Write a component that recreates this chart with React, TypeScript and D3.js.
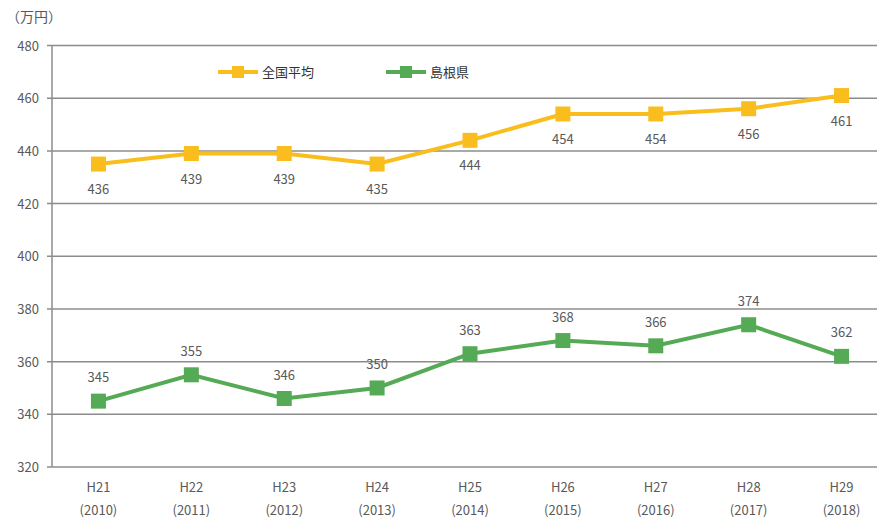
import React from "react";
import * as d3 from "d3";

const categories = ["H21", "H22", "H23", "H24", "H25", "H26", "H27", "H28", "H29"];
const years = ["(2010)", "(2011)", "(2012)", "(2013)", "(2014)", "(2015)", "(2016)", "(2017)", "(2018)"];
const national = [435, 439, 439, 435, 444, 454, 454, 456, 461];
const nationalLabels = ["436", "439", "439", "435", "444", "454", "454", "456", "461"];
const shimane = [345, 355, 346, 350, 363, 368, 366, 374, 362];
const yTicks = [320, 340, 360, 380, 400, 420, 440, 460, 480];
const seriesNames = ["全国平均", "島根県"];

const W = 877;
const H = 524;
const FONT = "'Noto Sans CJK JP', 'Noto Sans', sans-serif";
const TEXT = "#595959";
const YELLOW = "#F9BE1E";
const GREEN = "#55AA55";

export default function App() {
  const x = d3.scalePoint<string>().domain(categories).range([52, 888]).padding(0.5);
  const y = d3.scaleLinear().domain([320, 480]).range([467, 45.5]);
  const line = d3
    .line<number>()
    .x((_, i) => x(categories[i]) as number)
    .y((d) => y(d));

  const series = [
    { values: national, labels: nationalLabels, color: YELLOW, dy: 25 },
    { values: shimane, labels: shimane.map(String), color: GREEN, dy: -24 },
  ];

  return (
    <svg width={W} height={H} style={{ position: "absolute", left: 0, top: 0, background: "#fff" }}>
      <text x={6} y={22} fontFamily={FONT} fontSize={14} fill={TEXT}>（万円）</text>
      {yTicks.map((t) => (
        <g key={t}>
          <line x1={47} x2={W} y1={y(t)} y2={y(t)} stroke="#8c8c8c" strokeWidth={1.5} />
          <text x={39} y={y(t) + 5} textAnchor="end" fontFamily={FONT} fontSize={13} fill={TEXT}>{t}</text>
        </g>
      ))}
      <line x1={52} x2={52} y1={y(480)} y2={y(320)} stroke="#8c8c8c" strokeWidth={1.5} />
      {categories.map((c, i) => (
        <g key={c}>
          <text x={x(c)} y={492} textAnchor="middle" fontFamily={FONT} fontSize={13} fill={TEXT}>{c}</text>
          <text x={x(c)} y={515} textAnchor="middle" fontFamily={FONT} fontSize={13} fill={TEXT}>{years[i]}</text>
        </g>
      ))}
      {series.map((s, si) => (
        <g key={si}>
          <path d={line(s.values) || ""} fill="none" stroke={s.color} strokeWidth={4} />
          {s.values.map((v, i) => (
            <rect key={i} x={(x(categories[i]) as number) - 7.5} y={y(v) - 7.5} width={15} height={15} fill={s.color} />
          ))}
          {s.values.map((v, i) => (
            <text key={"l" + i} x={x(categories[i])} y={y(v) + s.dy + 5} textAnchor="middle" fontFamily={FONT} fontSize={13} fill={TEXT}>
              {s.labels[i]}
            </text>
          ))}
        </g>
      ))}
      {[
        { x0: 218, color: YELLOW, name: seriesNames[0] },
        { x0: 386, color: GREEN, name: seriesNames[1] },
      ].map((l) => (
        <g key={l.name}>
          <line x1={l.x0} x2={l.x0 + 40} y1={72} y2={72} stroke={l.color} strokeWidth={4} />
          <rect x={l.x0 + 14} y={66} width={12} height={12} fill={l.color} />
          <text x={l.x0 + 44} y={77} fontFamily={FONT} fontSize={13} fill="#333">{l.name}</text>
        </g>
      ))}
    </svg>
  );
}
